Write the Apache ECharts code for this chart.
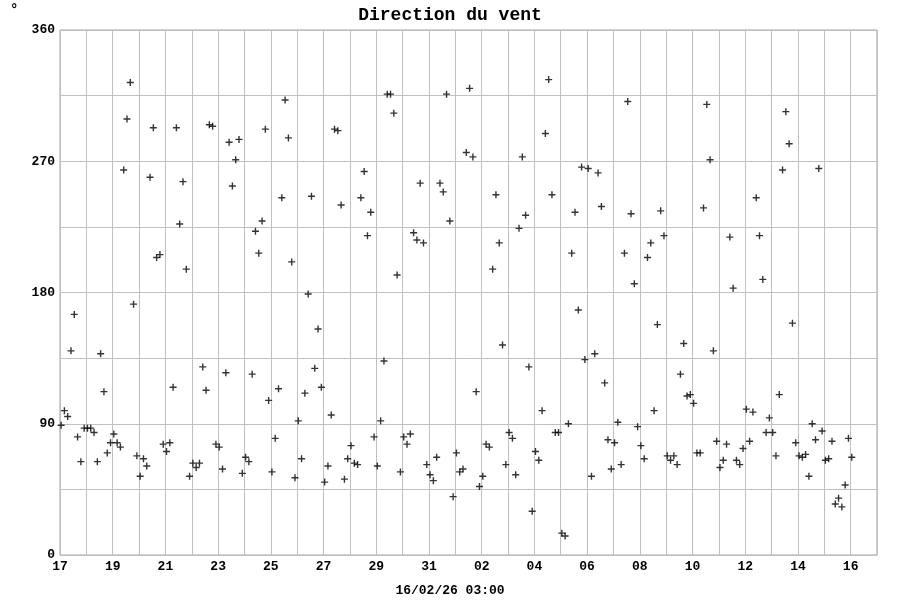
<!DOCTYPE html>
<html>
<head>
<meta charset="utf-8">
<title>Direction du vent</title>
<script src="https://cdn.jsdelivr.net/npm/echarts@6/dist/echarts.min.js"></script>
<style>
  html, body { margin: 0; padding: 0; background: #fff; }
  #chart { width: 900px; height: 600px; }
</style>
</head>
<body>
<div id="chart"></div>
<script>
// wind direction (degrees), one reading every 3 hours from 17/01 01:00
const dirWeek1 = [
  89, 99, 95, 140, 165, 81, 64, 87, 87, 87,
  84, 64, 138, 112, 70, 77, 83, 77, 74, 264,
  299, 324, 172, 68, 54, 66, 61, 259, 293, 204,
  206, 76, 71, 77, 115, 293, 227, 256, 196, 54,
  63, 60, 63, 129, 113, 295, 294, 76,
  74, 59, 125, 283, 253, 271, 285, 56, 67, 64
]
const dirWeek2 = [
  124, 222, 207, 229, 292, 106, 57, 80, 114, 245,
  312, 286, 201, 53, 92, 66, 111, 179, 246, 128,
  155, 115, 50, 61, 96, 292, 291, 240, 52, 66,
  75, 63, 62, 245, 263, 219,
  235, 81, 61, 92, 133, 316, 316, 303, 192, 57,
  81, 76, 83, 221, 216, 255, 214, 62, 55, 51
]
const dirWeek3 = [
  67, 255, 249, 316, 229, 40,
  70, 57, 59, 276, 320, 273, 112, 47, 54, 76,
  74, 196, 247, 214, 144, 62, 84, 80, 55, 224,
  273, 233, 129, 30,
  71, 65, 99, 289, 326, 247, 84, 84, 15, 13,
  90, 207, 235, 168, 266, 134, 265, 54, 138, 262,
  239, 118, 79, 59, 77, 91, 62
]
const dirWeek4 = [
  207, 311, 234, 186, 88, 75, 66, 204, 214, 99,
  158, 236, 219, 68, 65, 68, 62, 124, 145, 109,
  110, 104, 70, 70, 238,
  309, 271, 140, 78, 60, 65, 76, 218, 183, 65,
  62, 73, 100, 78, 98, 245, 219, 189, 84, 94,
  84, 68, 110, 264, 304, 282,
  159, 77, 68, 67, 69, 54, 90, 79, 265, 85,
  65, 66, 78, 35, 39, 33, 48, 80, 67
]

const windDir = [].concat(dirWeek1, dirWeek2, dirWeek3, dirWeek4)

const DAY = 86400000
const STEP = 3 * 3600000
const startTime = Date.UTC(2026, 0, 17, 1)
const axisStart = Date.UTC(2026, 0, 17)
const axisEnd = Date.UTC(2026, 1, 17)

const yTickLabels = ['0', '90', '180', '270', '360']

const points = windDir.map((v, i) => [startTime + i * STEP, v])

const monoFont = '"Liberation Mono", "DejaVu Sans Mono", monospace'

const chart = echarts.init(document.getElementById('chart'), null, { renderer: 'canvas' })

const option = {
  backgroundColor: '#ffffff',
  animation: false,
  title: {
    text: 'Direction du vent',
    left: 'center',
    top: 1,
    textStyle: {
      fontFamily: monoFont,
      fontWeight: 'bold',
      fontSize: 18,
      color: '#000',
    },
  },
  graphic: [
    {
      type: 'text',
      left: 10,
      top: 3,
      style: { text: '°', font: 'bold 14px ' + monoFont, fill: '#000' },
    },
    {
      type: 'text',
      left: 'center',
      top: 584,
      style: { text: '16/02/26 03:00', font: 'bold 13px ' + monoFont, fill: '#000' },
    },
  ],
  grid: {
    left: 60,
    right: 23,
    top: 30,
    bottom: 45,
    show: true,
    borderColor: '#a0a0a0',
    borderWidth: 1,
  },
  xAxis: {
    type: 'value',
    min: axisStart,
    max: axisEnd,
    interval: DAY,
    axisLine: { show: false },
    axisTick: { show: false },
    splitLine: { show: true, lineStyle: { color: '#c0c0c0', width: 1 } },
    axisLabel: {
      margin: 5,
      color: '#000',
      fontFamily: monoFont,
      fontWeight: 'bold',
      fontSize: 13,
      showMaxLabel: false,
      formatter: (val) => {
        const offset = Math.round((val - axisStart) / DAY)
        if (offset % 2 !== 0) return ''
        const d = new Date(val).getUTCDate()
        return String(d).padStart(2, '0')
      },
    },
  },
  yAxis: {
    type: 'value',
    min: 0,
    max: 360,
    interval: 45,
    axisLine: { show: false },
    axisTick: { show: false },
    splitLine: { show: true, lineStyle: { color: '#c0c0c0', width: 1 } },
    axisLabel: {
      margin: 5,
      color: '#000',
      fontFamily: monoFont,
      fontWeight: 'bold',
      fontSize: 13,
      formatter: (val) => {
        const s = String(val)
        return yTickLabels.includes(s) ? s : ''
      },
    },
  },
  series: [
    {
      name: 'Direction',
      type: 'scatter',
      data: points,
      // plus sign drawn as a filled outline so it stays crisp
      symbol: 'path://M2.8,0H4.2V2.8H7V4.2H4.2V7H2.8V4.2H0V2.8H2.8Z',
      symbolSize: 7,
      itemStyle: { color: '#000' },
      silent: true,
    },
  ],
}

chart.setOption(option)
</script>
</body>
</html>
